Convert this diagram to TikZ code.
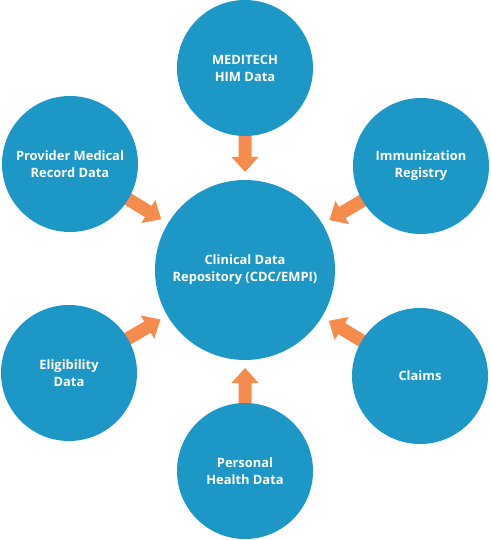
\documentclass[tikz,border=0pt]{standalone}
\usepackage{fontspec}
\setmainfont{Open Sans}
\usetikzlibrary{calc,backgrounds}
\definecolor{cblue}{RGB}{29,151,197}
\definecolor{corange}{RGB}{245,139,76}
\tikzset{
  hub/.style={circle, fill=cblue, minimum size=180pt, inner sep=0pt, text=white,
    font=\bfseries\fontsize{12.9}{17}\selectfont, align=center},
  src/.style={hub, minimum size=136pt},
  arrowfill/.style={fill=corange},
}
\newcommand\flowarrow[2]{%
  \coordinate (T#1) at ($(#2)!98pt!(#1)$);
  \coordinate (S#1) at ($(#1)!55pt!(#2)$);
  \coordinate (H#1) at ($(T#1)!15pt!(S#1)$);
  \fill[arrowfill] ($(S#1)!6.5pt!90:(T#1)$) -- ($(H#1)!6.5pt!90:(T#1)$)
    -- ($(H#1)!13.5pt!90:(T#1)$) -- (T#1) -- ($(H#1)!13.5pt!-90:(T#1)$)
    -- ($(H#1)!6.5pt!-90:(T#1)$) -- ($(S#1)!6.5pt!-90:(T#1)$) -- cycle;
}
\begin{document}
\begin{tikzpicture}[x=1pt,y=-1pt]
\useasboundingbox (0,0) rectangle (490,540);
\node[hub] (cen) at (245,270) {Clinical Data\\Repository (CDC/EMPI)};
\node[src] (med) at (245,68) {MEDITECH\\HIM Data};
\node[src] (prov) at (70,164) {Provider Medical\\Record Data};
\node[src] (imm) at (421,166) {Immunization\\Registry};
\node[src] (elig) at (69,373) {Eligibility\\Data};
\node[src] (claims) at (420,376) {Claims};
\node[src] (pers) at (245,471) {Personal\\Health Data};
\begin{scope}[on background layer]
\flowarrow{med}{cen}
\flowarrow{prov}{cen}
\flowarrow{imm}{cen}
\flowarrow{elig}{cen}
\flowarrow{claims}{cen}
\flowarrow{pers}{cen}
\end{scope}
\end{tikzpicture}
\end{document}
